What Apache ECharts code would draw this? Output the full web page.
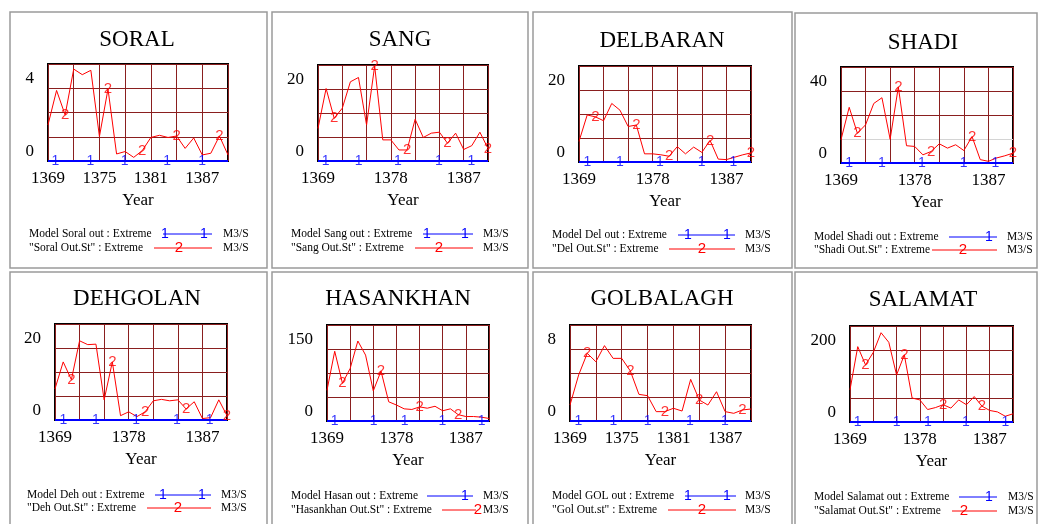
<!DOCTYPE html>
<html>
<head>
<meta charset="utf-8">
<script src="https://cdn.jsdelivr.net/npm/echarts@6/dist/echarts.min.js"></script>
<style>
  html, body { margin: 0; padding: 0; background: #fff; }
  #chart { width: 1038px; height: 524px; }
</style>
</head>
<body>
<div id="chart"></div>
<script>
// Simulation years (Solar Hijri)
const years = [1369, 1370, 1371, 1372, 1373, 1374, 1375, 1376, 1377, 1378, 1379,
               1380, 1381, 1382, 1383, 1384, 1385, 1386, 1387, 1388, 1389, 1390];

// Model outflow under the extreme scenario (M3/S) - zero at every station
const modelOutExtreme = [0, 0, 0, 0, 0, 0, 0, 0, 0, 0, 0, 0, 0, 0, 0, 0, 0, 0, 0, 0, 0, 0];

// Station outflow series under the extreme scenario (M3/S)
const soralSt     = [1.49, 2.91, 1.90, 3.79, 3.56, 3.74, 1.01, 2.97, 0.29, 0.39, 0.15, 0.43, 0.97, 1.06, 0.97, 1.03, 0.52, 0.95, 0.25, 0.32, 1.03, 0.25];
const sangSt      = [6.8, 15.1, 8.9, 11.0, 16.5, 17.4, 7.5, 19.8, 4.4, 4.4, 2.3, 2.3, 8.7, 4.9, 5.8, 6.0, 3.7, 5.8, 2.4, 3.2, 6.0, 2.6];
const delbaranSt  = [4.3, 9.8, 9.4, 8.6, 12.2, 10.8, 7.4, 7.7, 1.7, 1.7, 1.5, 1.2, 3.2, 1.7, 3.1, 2.0, 4.5, 0.6, 0.5, 1.0, 1.5, 1.9];
const shadiSt     = [9.7, 23.2, 12.4, 15.9, 24.8, 27.2, 9.9, 31.7, 7.2, 6.9, 3.4, 4.8, 8.0, 6.2, 7.6, 5.2, 11.0, 1.4, 0.7, 2.1, 3.0, 4.1];
const dehgolanSt  = [6.5, 12.1, 8.4, 16.5, 15.7, 15.8, 4.2, 12.1, 0.9, 1.7, 0.7, 1.7, 4.0, 4.3, 4.0, 4.2, 2.3, 3.8, 0.3, 0.5, 4.2, 0.9];
const hasankhanSt = [48, 109, 59, 82, 125, 103, 47, 78, 30, 25, 19, 18, 22, 20, 23, 16, 19, 10, 7, 7, 6, 4];
const golbalaghSt = [1.33, 3.83, 5.64, 4.94, 6.28, 5.22, 5.22, 4.17, 2.22, 2.11, 0.78, 0.78, 1.06, 0.83, 3.47, 1.75, 1.33, 2.44, 0.78, 0.64, 0.92, 1.0];
const salamatSt   = [67, 157, 119, 145, 186, 166, 98, 140, 50, 46, 26, 30, 36, 29, 46, 36, 53, 33, 24, 21, 12, 17];

// Panel titles and y-axis maxima
const titles = ['SORAL', 'SANG', 'DELBARAN', 'SHADI', 'DEHGOLAN', 'HASANKHAN', 'GOLBALAGH', 'SALAMAT'];
const stSeries = [soralSt, sangSt, delbaranSt, shadiSt, dehgolanSt, hasankhanSt, golbalaghSt, salamatSt];
const yMax = [4, 20, 20, 40, 20, 150, 8, 200];
const xLabelStep = [6, 9, 9, 9, 9, 9, 6, 9];

// Where the "2" series markers sit (index into years)
const stMarkIdx = [
  [2, 7, 11, 15, 20], [2, 7, 11, 16, 21], [2, 7, 11, 16, 21], [2, 7, 11, 16, 21],
  [2, 7, 11, 16, 21], [2, 7, 12, 17], [2, 7, 11, 15, 20], [2, 7, 12, 17]
];
// Where the "1" series markers sit (year)
const modelMarkYears = [
  [1369.86, 1373.94, 1377.95, 1382.89, 1386.97],
  [1369.95, 1374.02, 1378.88, 1383.94, 1387.94],
  [1370.02, 1373.98, 1378.87, 1383.97, 1387.84],
  [1369.98, 1373.98, 1378.87, 1383.97, 1387.84],
  [1370.02, 1373.98, 1378.91, 1383.89, 1387.88],
  [1369.99, 1375.04, 1379.05, 1383.96, 1389.05],
  [1369.97, 1374.03, 1378.01, 1382.92, 1386.98],
  [1369.99, 1375.02, 1379.03, 1383.93, 1389.01]
];

// Legend captions
const modelCaptions = ['Model Soral out : Extreme', 'Model Sang out : Extreme', 'Model Del out : Extreme',
  'Model Shadi out : Extreme', 'Model Deh out : Extreme', 'Model Hasan out : Extreme',
  'Model GOL out : Extreme', 'Model Salamat out : Extreme'];
const stCaptions = ['"Soral Out.St" : Extreme', '"Sang Out.St" : Extreme', '"Del Out.St" : Extreme',
  '"Shadi Out.St" : Extreme', '"Deh Out.St" : Extreme', '"Hasankhan Out.St" : Extreme',
  '"Gol Out.st" : Extreme', '"Salamat Out.St" : Extreme'];
const unitLabel = 'M3/S';

// ---- layout (pixels) ----
const boxes = [
  [10, 12, 257, 256], [272, 12, 256, 256], [533, 12, 259, 256], [795, 13, 242, 255],
  [10, 272, 257, 262], [272, 272, 256, 262], [533, 272, 259, 262], [795, 272, 242, 262]
];
const grids = [
  [48, 64, 180, 97], [318, 65, 170, 96], [579, 66, 172, 96], [841, 67, 172, 96],
  [55, 324, 172, 96], [327, 325, 162, 96], [570, 325, 181, 96], [850, 326, 163, 96]
];
const titlePos = [[137, 40], [400, 40], [662, 41], [923, 43], [137, 299], [398, 299], [662, 299], [923, 300]];
const legendLayout = [
  { x: 29,  y: [234, 248], blue: [163, 212], blueMarks: [165, 204], red: [154, 212], redMark: 179, unit: 223 },
  { x: 291, y: [234, 248], blue: [423, 473], blueMarks: [427, 465], red: [415, 473], redMark: 439, unit: 483 },
  { x: 552, y: [235, 249], blue: [678, 735], blueMarks: [688, 727], red: [669, 735], redMark: 702, unit: 745 },
  { x: 814, y: [237, 250], blue: [949, 997], blueMarks: [989],      red: [932, 997], redMark: 963, unit: 1007 },
  { x: 27,  y: [495, 508], blue: [155, 211], blueMarks: [163, 202], red: [147, 211], redMark: 178, unit: 221 },
  { x: 291, y: [496, 510], blue: [427, 473], blueMarks: [465],      red: [442, 476], redMark: 478, unit: 483 },
  { x: 552, y: [496, 510], blue: [685, 736], blueMarks: [688, 727], red: [668, 736], redMark: 702, unit: 745 },
  { x: 814, y: [497, 511], blue: [959, 997], blueMarks: [989],      red: [952, 997], redMark: 964, unit: 1008 }
];

const SERIF = '"Liberation Serif", "Times New Roman", serif';
const SANS = '"Liberation Sans", Arial, sans-serif';
const GRID_RED = '#8a1f1f';
const RED = '#ff0000';
const BLUE = '#0000ff';

const chart = echarts.init(document.getElementById('chart'), null, { renderer: 'canvas' });

const grid = [], xAxis = [], yAxis = [], series = [], graphic = [];

titles.forEach((title, i) => {
  const [gl, gt, gw, gh] = grids[i];
  grid.push({ left: gl, top: gt, width: gw, height: gh, show: true,
              borderColor: '#000', borderWidth: 2, backgroundColor: '#fff', containLabel: false });

  const step = xLabelStep[i];
  xAxis.push({
    gridIndex: i, type: 'value', min: 1369, max: 1390, interval: 3,
    axisLine: { show: false }, axisTick: { show: false },
    splitLine: { show: true, lineStyle: { color: GRID_RED, width: 1 } },
    axisLabel: {
      margin: 9, fontFamily: SERIF, fontSize: 17, color: '#000',
      formatter: v => ((v - 1369) % step === 0 && v < 1390 ? String(v) : '')
    },
    name: 'Year', nameLocation: 'middle', nameGap: 31,
    nameTextStyle: { fontFamily: SERIF, fontSize: 17, color: '#000' }
  });

  const ymax = yMax[i];
  const hColors = i === 3 ? [GRID_RED, '#d4d4d4', GRID_RED, GRID_RED, GRID_RED] : GRID_RED;
  yAxis.push({
    gridIndex: i, type: 'value', min: 0, max: ymax, interval: ymax / 4,
    axisLine: { show: false }, axisTick: { show: false },
    splitLine: { show: true, lineStyle: { color: hColors, width: 1 } },
    axisLabel: {
      margin: 14, fontFamily: SERIF, fontSize: 17, color: '#000',
      formatter: v => (v === ymax ? '{t|' + v + '}' : (v === 0 ? '{b|0}' : '')),
      rich: {
        t: { fontFamily: SERIF, fontSize: 17, color: '#000', padding: [29, 0, 0, 0] },
        b: { fontFamily: SERIF, fontSize: 17, color: '#000', padding: [0, 0, 19, 0] }
      }
    }
  });

  const st = stSeries[i];
  series.push({
    type: 'line', xAxisIndex: i, yAxisIndex: i, z: 3,
    data: years.map((y, k) => [y, modelOutExtreme[k]]),
    symbol: 'none', lineStyle: { color: BLUE, width: 2 }
  });
  series.push({
    type: 'line', xAxisIndex: i, yAxisIndex: i, z: 4,
    data: years.map((y, k) => [y, st[k]]),
    symbol: 'none', lineStyle: { color: RED, width: 1 }
  });
  series.push({
    type: 'scatter', xAxisIndex: i, yAxisIndex: i, z: 5,
    data: stMarkIdx[i].map(k => [years[k], st[k]]),
    symbol: 'circle', symbolSize: 2, itemStyle: { color: 'rgba(0,0,0,0)' },
    label: { show: true, position: 'inside', formatter: '2', color: RED, fontFamily: SANS, fontSize: 15 }
  });
  series.push({
    type: 'scatter', xAxisIndex: i, yAxisIndex: i, z: 5,
    data: modelMarkYears[i].map(x => [x, 0]),
    symbol: 'circle', symbolSize: 2, itemStyle: { color: 'rgba(0,0,0,0)' },
    label: { show: true, position: 'inside', formatter: '1', color: BLUE, fontFamily: SANS, fontSize: 14 }
  });

  // panel frame
  const [bx, by, bw, bh] = boxes[i];
  graphic.push({ type: 'rect', silent: true, z: -10,
    shape: { x: bx, y: by, width: bw, height: bh },
    style: { fill: 'none', stroke: '#9a9a9a', lineWidth: 1.5 } });

  // title
  graphic.push({ type: 'text', silent: true, x: titlePos[i][0], y: titlePos[i][1],
    style: { text: title, font: '23px ' + SERIF, fill: '#000', align: 'center', verticalAlign: 'middle' } });

  // legend
  const L = legendLayout[i];
  const legFont = '11.5px ' + SERIF;
  graphic.push({ type: 'text', silent: true, x: L.x, y: L.y[0],
    style: { text: modelCaptions[i], font: legFont, fill: '#000', align: 'left', verticalAlign: 'middle' } });
  graphic.push({ type: 'text', silent: true, x: L.x, y: L.y[1],
    style: { text: stCaptions[i], font: legFont, fill: '#000', align: 'left', verticalAlign: 'middle' } });
  graphic.push({ type: 'line', silent: true,
    shape: { x1: L.blue[0], y1: L.y[0], x2: L.blue[1], y2: L.y[0] },
    style: { stroke: BLUE, lineWidth: 1 } });
  L.blueMarks.forEach(mx => graphic.push({ type: 'text', silent: true, x: mx, y: L.y[0],
    style: { text: '1', font: '14px ' + SANS, fill: BLUE, align: 'center', verticalAlign: 'middle' } }));
  graphic.push({ type: 'line', silent: true,
    shape: { x1: L.red[0], y1: L.y[1], x2: L.red[1], y2: L.y[1] },
    style: { stroke: RED, lineWidth: 1 } });
  graphic.push({ type: 'text', silent: true, x: L.redMark, y: L.y[1],
    style: { text: '2', font: '15px ' + SANS, fill: RED, align: 'center', verticalAlign: 'middle' } });
  graphic.push({ type: 'text', silent: true, x: L.unit, y: L.y[0],
    style: { text: unitLabel, font: legFont, fill: '#000', align: 'left', verticalAlign: 'middle' } });
  graphic.push({ type: 'text', silent: true, x: L.unit, y: L.y[1],
    style: { text: unitLabel, font: legFont, fill: '#000', align: 'left', verticalAlign: 'middle' } });
});

chart.setOption({
  backgroundColor: '#fff',
  animation: false,
  grid, xAxis, yAxis, series, graphic
});
</script>
</body>
</html>
